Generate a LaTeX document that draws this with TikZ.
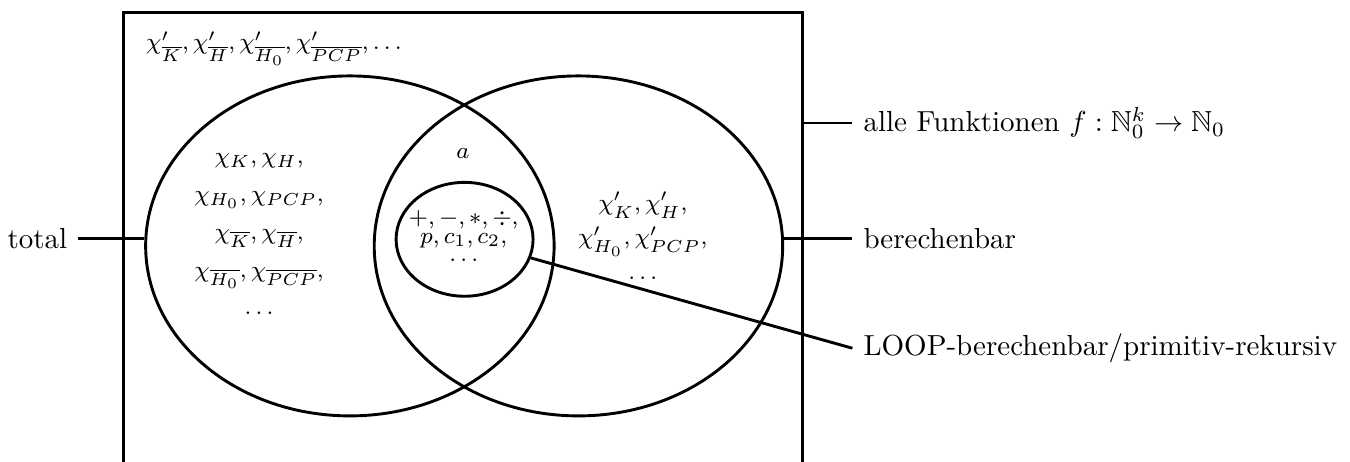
\documentclass[tikz,border=0pt]{standalone}
\usepackage{amsmath}
\usepackage{amssymb}
\usepackage{tikz}
\usetikzlibrary{shapes.geometric}

\begin{document}
\begin{tikzpicture}[line width=1pt,
    menge/.style={draw, ellipse, inner sep=0pt},
    inhalt/.style={align=center, inner sep=0pt, font=\footnotesize}]
        \clip (0,0) rectangle (16.36,5.59);
        % Box of all functions (open at the bottom)
        \draw (1.50,-1) rectangle (9.73,5.44);
        \coordinate (rand) at (9.73,4.10);
        \node[inhalt] (nichtber) at (3.32,5.00) {$\chi'_{\overline{K}}, \chi'_{\overline{H}}, \chi'_{\overline{H_0}}, \chi'_{\overline{PCP}}, \ldots$};
        % total and berechenbar
        \node[menge, minimum width=4.95cm, minimum height=4.12cm] (tot) at (4.24,2.61) {};
        \node[menge, minimum width=4.95cm, minimum height=4.12cm] (ber) at (7.01,2.61) {};
        % LOOP inside
        \node[menge, minimum width=1.66cm, minimum height=1.38cm] (loop) at (5.63,2.69) {};
        % contents
        \node[inhalt] (links) at (3.14,2.75) {$\chi_K, \chi_H,$\\[3.5pt] $\chi_{H_0}, \chi_{PCP},$\\[3.5pt] $\chi_{\overline{K}}, \chi_{\overline{H}},$\\[3.5pt] $\chi_{\overline{H_0}}, \chi_{\overline{PCP}},$\\[3.5pt] $\ldots$};
        \node[inhalt] (mitte) at (5.61,3.73) {$a$};
        \node[inhalt] (innen) at (5.62,2.73) {$+,-,*,\div,$\\[-3.2pt] $p,c_1,c_2,$\\[-3.2pt] $\ldots$};
        \node[inhalt] (rechts) at (7.79,2.73) {$\chi'_K, \chi'_H,$\\[2.5pt] $\chi'_{H_0}, \chi'_{PCP},$\\[2.5pt] $\ldots$};
        % labels
        \node[anchor=east] (ltot) at (0.95,2.70) {total};
        \node[anchor=west] (lber) at (10.33,2.70) {berechenbar};
        \node[anchor=west] (lalle) at (10.33,4.10) {alle Funktionen $f : \mathbb{N}_0^k \to \mathbb{N}_0$};
        \node[anchor=west] (lloop) at (10.33,1.37) {LOOP-berechenbar/primitiv-rekursiv};
        \draw (ltot) -- (ltot -| tot.west);
        \draw (lber -| ber.east) -- (lber);
        \draw (rand) -- (lalle);
        \draw (loop) -- (lloop.west);
\end{tikzpicture}
\end{document}
